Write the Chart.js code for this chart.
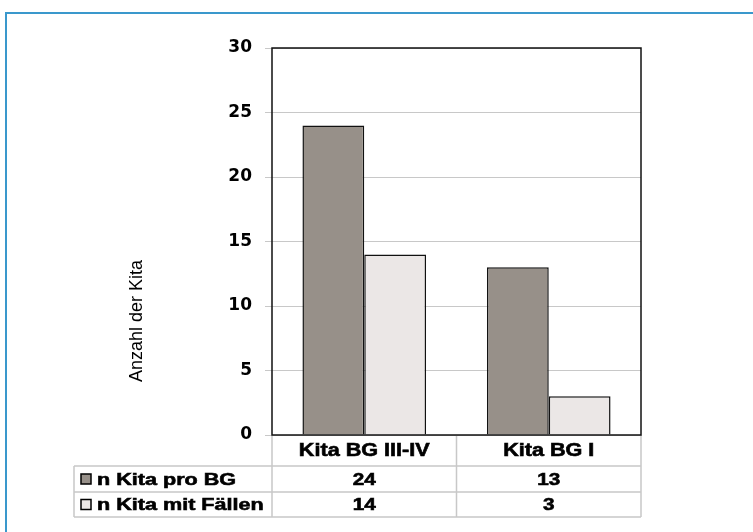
<!DOCTYPE html>
<html lang="de">
<head>
    <meta charset="UTF-8">
    <title>Anzahl der Kita</title>
    <script src="https://cdn.jsdelivr.net/npm/chart.js@4.4.0/dist/chart.umd.min.js"></script>
    <style>
        body { margin: 0; background: #fff; }
        #frame { position: absolute; left: 5px; top: 12px; width: 800px; height: 600px;
                 border-left: 2px solid #3a98cc; border-top: 2px solid #3a98cc; }
        #chart { position: absolute; left: 0; top: 0; }
    </style>
</head>
<body>
    <div id="frame"></div>
    <canvas id="chart" width="753" height="532"></canvas>

<script>
    const categories = ['Kita BG III-IV', 'Kita BG I']
    const seriesNames = ['n Kita pro BG', 'n Kita mit Fällen']
    const proBG = [24, 13]
    const mitFaellen = [14, 3]
    const seriesColors = ['#979089', '#ebe7e6']
    const yTicks = [0, 5, 10, 15, 20, 25, 30]

    const lineColor = '#c8c8c8'

    // text a bit wider and heavier than normal, like the original picture
    function wideText(c, txt, x, y, size, sx) {
        c.save()
        c.translate(x, y)
        c.scale(sx, 1)
        c.font = 'bold ' + size + 'px "Liberation Sans"'
        c.strokeStyle = '#000'
        c.lineWidth = 0.6
        c.fillText(txt, 0, 0)
        c.strokeText(txt, 0, 0)
        c.restore()
    }

    // draws the data table under the plot, the axis title and the plot box
    const tablePlugin = {
        id: 'tablePlugin',
        afterDraw(chart) {
            const c = chart.ctx
            const a = chart.chartArea
            const x = chart.scales.x
            const rows = [a.bottom, 466, 492, 517]
            const leftCol = 74
            const mid = (a.left + a.right) / 2

            c.save()
            // table lines
            c.strokeStyle = lineColor
            c.lineWidth = 1.5
            c.beginPath()
            for (const xx of [a.left, mid, a.right]) {
                c.moveTo(xx, a.bottom); c.lineTo(xx, rows[3])
            }
            c.moveTo(leftCol, rows[1]); c.lineTo(leftCol, rows[3])
            for (const yy of rows.slice(1)) {
                c.moveTo(leftCol, yy); c.lineTo(a.right, yy)
            }
            c.stroke()

            // texts
            c.fillStyle = '#000'
            c.textBaseline = 'middle'
            c.textAlign = 'center'
            categories.forEach((cat, i) => {
                const cx = x.getPixelForValue(i)
                wideText(c, cat, cx, (rows[0] + rows[1]) / 2 + 1, 18, 1.2)
                chart.data.datasets.forEach((ds, j) => {
                    wideText(c, String(ds.data[i]), cx, (rows[j + 1] + rows[j + 2]) / 2 + 1, 17, 1.22)
                })
            })
            c.textAlign = 'left'
            chart.data.datasets.forEach((ds, j) => {
                const cy = (rows[j + 1] + rows[j + 2]) / 2
                c.fillStyle = ds.backgroundColor
                c.fillRect(81, cy - 5, 10, 10)
                c.strokeStyle = '#000'
                c.lineWidth = 1.5
                c.strokeRect(81, cy - 5, 10, 10)
                c.fillStyle = '#000'
                wideText(c, ds.label, 97, cy + 1, 17, 1.27)
            })

            // axis title
            c.save()
            c.translate(137, 321)
            c.rotate(-Math.PI / 2)
            c.textAlign = 'center'
            c.font = '18px "Liberation Sans"'
            c.fillText('Anzahl der Kita', 0, 0)
            c.restore()

            // plot box
            c.strokeStyle = '#111'
            c.lineWidth = 1.5
            c.strokeRect(a.left, a.top, a.right - a.left, a.bottom - a.top)
            c.restore()
        }
    }

    const chart = new Chart(document.getElementById('chart'), {
        type: 'bar',
        data: {
            labels: categories,
            datasets: [
                { label: seriesNames[0], data: proBG, backgroundColor: seriesColors[0], borderColor: '#111', borderWidth: 1.5 },
                { label: seriesNames[1], data: mitFaellen, backgroundColor: seriesColors[1], borderColor: '#111', borderWidth: 1.5 }
            ]
        },
        options: {
            responsive: false,
            animation: false,
            categoryPercentage: 0.67,
            barPercentage: 1,
            layout: { padding: { top: 48, right: 112, left: 0, bottom: 0 } },
            plugins: { legend: { display: false }, tooltip: { enabled: false } },
            scales: {
                x: {
                    ticks: { display: false },
                    grid: { display: false },
                    border: { display: false },
                    afterFit: (s) => { s.height = 97 }
                },
                y: {
                    min: 0,
                    max: 30,
                    afterBuildTicks: (s) => { s.ticks = yTicks.map(v => ({ value: v })) },
                    ticks: { color: '#000', padding: 13, font: { family: 'DejaVu Sans', size: 17, weight: 'bold' } },
                    grid: { color: lineColor, tickLength: 7 },
                    border: { display: false },
                    afterFit: (s) => { s.width = 272 }
                }
            }
        },
        plugins: [tablePlugin]
    })
</script>
</body>
</html>
